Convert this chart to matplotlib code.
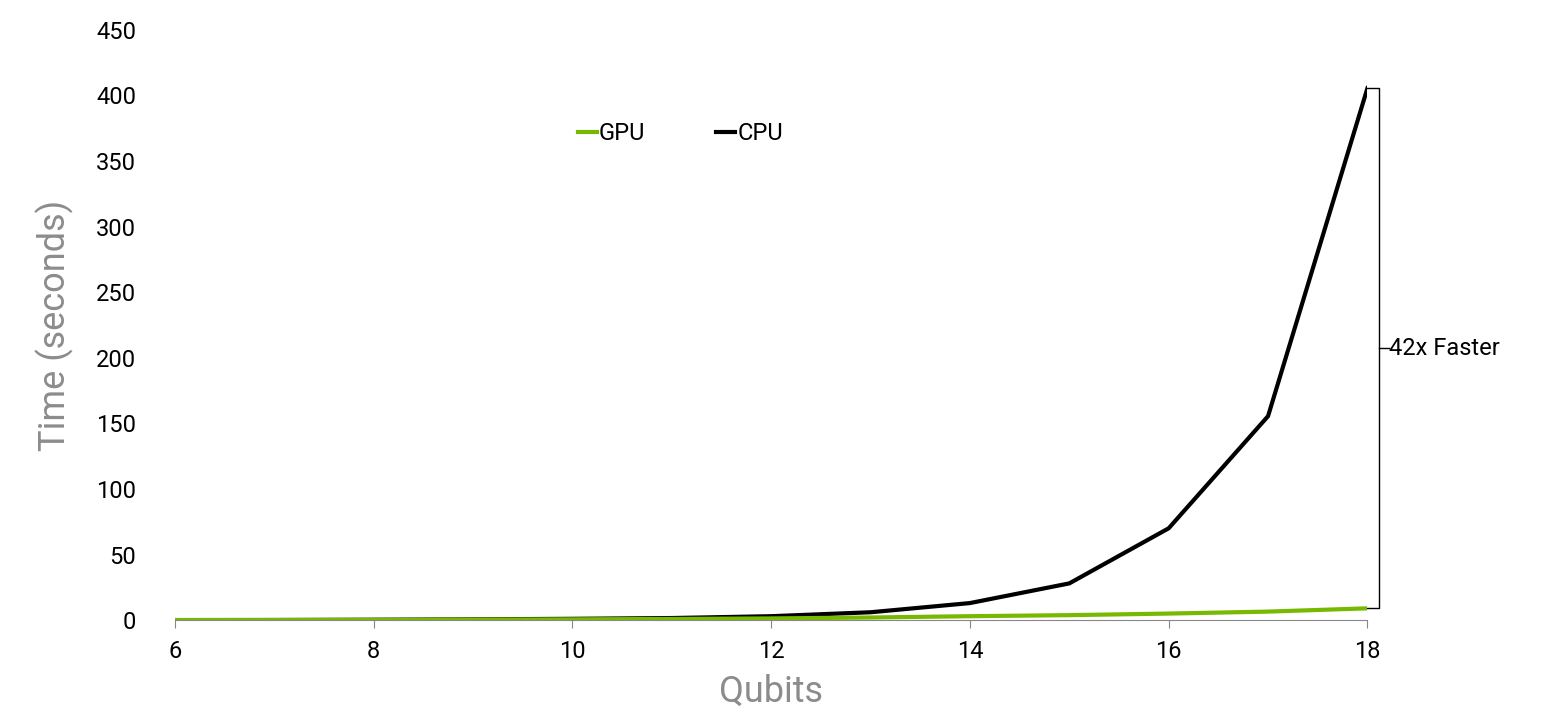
import matplotlib.pyplot as plt
from matplotlib.lines import Line2D

qubits = [6, 7, 8, 9, 10, 11, 12, 13, 14, 15, 16, 17, 18]
cpu_time = [0.05, 0.1, 0.3, 0.6, 1.0, 1.6, 3.0, 6.0, 13.0, 28.0, 70.0, 155.5, 405.5]
gpu_time = [0.05, 0.1, 0.2, 0.4, 0.6, 0.9, 1.3, 2.0, 3.0, 3.8, 5.0, 6.5, 9.0]
speedup_label = "42x Faster"

plt.rcParams['font.family'] = ['Roboto', 'DejaVu Sans']

fig = plt.figure(figsize=(15.61, 7.27), dpi=100)
ax = fig.add_axes([0.112, 0.147, 0.764, 0.812])

ax.plot(qubits, gpu_time, color='#76b900', lw=3, label='GPU', zorder=3)
ax.plot(qubits, cpu_time, color='black', lw=3, label='CPU', zorder=2)

ax.set_xlim(6, 18)
ax.set_ylim(0, 450)
ax.set_xticks(range(6, 19, 2))
ax.set_yticks(range(0, 451, 50))
ax.tick_params(axis='both', labelsize=17, colors='black')
ax.tick_params(axis='y', length=0, pad=28)
ax.tick_params(axis='x', length=6, color='#888888', pad=8)
for s in ['top', 'right', 'left']:
    ax.spines[s].set_visible(False)
ax.spines['bottom'].set_color('#888888')

ax.set_xlabel('Qubits', fontsize=26, color='#8c8c8c', labelpad=8)
ax.set_ylabel('Time (seconds)', fontsize=26, color='#8c8c8c', labelpad=16)

# bracket between GPU and CPU end values
lo, hi = gpu_time[-1], cpu_time[-1]
mid = (lo + hi) / 2
bx = 18.12
ax.plot([18.0, bx, bx, 18.0], [lo, lo, hi, hi], color='black', lw=1,
        clip_on=False)
ax.plot([bx, bx + 0.1], [mid, mid], color='black', lw=1, clip_on=False)
ax.text(bx + 0.1, mid, speedup_label, fontsize=17, va='center', ha='left')

handles = [Line2D([], [], color='#76b900', lw=3),
           Line2D([], [], color='black', lw=3)]
ax.legend(handles, ['GPU', 'CPU'], loc='upper left',
          bbox_to_anchor=(0.32, 0.88), ncol=2, frameon=False, fontsize=17,
          handlelength=0.8, handletextpad=0.1, columnspacing=3)

fig.savefig('out.png', dpi=100)
